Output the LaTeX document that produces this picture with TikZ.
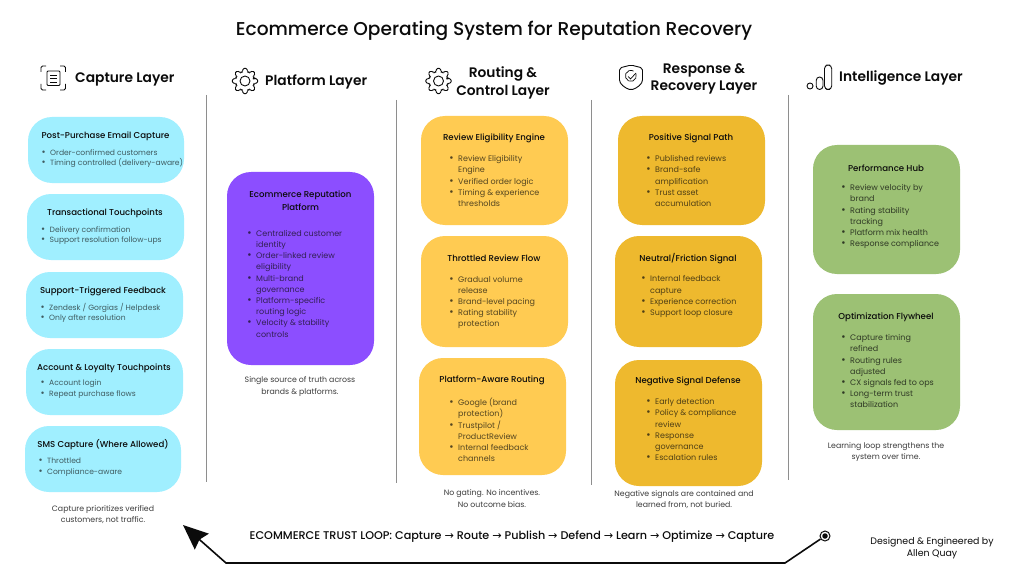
\documentclass[tikz,border=0pt]{standalone}
\usepackage{fontspec}
\setmainfont{Poppins}
\newfontfamily\medfont{Poppins Medium}
\newfontfamily\semifont{Poppins SemiBold}
\newfontfamily\arrowfont{DejaVu Sans}
\usetikzlibrary{arrows.meta,positioning}
\definecolor{ink}{HTML}{0B0B0B}
\definecolor{muted}{HTML}{3C3C3C}
\definecolor{rule}{HTML}{8E8E8E}
\definecolor{capture1}{HTML}{A0EFFF}
\definecolor{platform1}{HTML}{8C4EFF}
\definecolor{routing1}{HTML}{FFCB52}
\definecolor{response1}{HTML}{EEB92E}
\definecolor{intel1}{HTML}{9CC174}
\newcommand{\itm}[1]{\llap{\raisebox{0pt}{\scalebox{1.3}{•}}\hspace{4.5pt}}#1}
\tikzset{
  card/.style={rounded corners=24pt,inner sep=0pt},
  cardtitle/.style={font=\fontsize{8.6}{13}\selectfont\medfont,color=ink,align=center,inner sep=0pt},
  cardlist/.style={font=\fontsize{8}{11.2}\selectfont,align=left,anchor=north west,inner sep=0pt},
  smalllist/.style={cardlist,font=\fontsize{7.6}{10.4}\selectfont,color=capture1!35!ink},
  capnote/.style={font=\fontsize{7.8}{11.4}\selectfont,color=muted,align=center,inner sep=0pt},
  layerhead/.style={font=\fontsize{13.8}{17.5}\selectfont\semifont,color=ink,align=center,inner sep=0pt},
  iconline/.style={draw=ink,line width=0.9pt},
}
\newcommand{\gearicon}[1]{%
  \begin{scope}[shift={#1}]
    \draw[iconline,rounded corners=1.3pt] (-15:9.2)
      \foreach \a in {0,45,...,315}{ -- ({\a-15}:9.4) -- ({\a-9}:12.8) -- ({\a+9}:12.8) -- ({\a+15}:9.4)} -- cycle;
    \draw[iconline] (0,0) circle (5);
  \end{scope}}
\begin{document}
\begin{tikzpicture}[x=1pt,y=-1pt]
  \useasboundingbox (0,0) rectangle (1024,572);
  \fill[white] (0,0) rectangle (1024,572);
  % title
  \node[font=\fontsize{18.6}{22}\selectfont\medfont,color=ink,inner sep=0pt] (title) at (494,30.5)
       {Ecommerce Operating System for Reputation Recovery};
  % column rules
  \foreach \x/\ya/\yb in {206/95/482,396/100/483,591/100/485,788/95/480}{
    \draw[rule,line width=1pt] (\x,\ya) -- (\x,\yb);}
  % layer heads
  \node[layerhead,anchor=west] (capturehead) at (75,79) {Capture Layer};
  \node[layerhead,anchor=west] (platformhead) at (265,82) {Platform Layer};
  \node[layerhead] (routinghead) at (503,83) {Routing \&\\Control Layer};
  \node[layerhead] (responsehead) at (704,79) {Response \&\\Recovery Layer};
  \node[layerhead,anchor=west] (intelhead) at (839,78) {Intelligence Layer};
  % capture icon
  \draw[iconline,rounded corners=1.5pt] (46,66) -- (41,66) -- (41,72);
  \draw[iconline,rounded corners=1.5pt] (60,66) -- (65.5,66) -- (65.5,72);
  \draw[iconline,rounded corners=1.5pt] (41,84) -- (41,90) -- (46,90);
  \draw[iconline,rounded corners=1.5pt] (65.5,84) -- (65.5,90) -- (60,90);
  \draw[iconline,rounded corners=1pt] (47,71) rectangle (60,85.5);
  \foreach \y in {75,78.5,82}{\draw[ink,line width=0.7pt] (50,\y) -- (57,\y);}
  % gears
  \gearicon{(245,81)}
  \gearicon{(438.5,81)}
  % shield icon
  \draw[iconline,rounded corners=2pt] (619.5,68) -- (631,65) -- (642.5,68) -- (642.5,78)
    .. controls (642.5,84) and (637,88) .. (631,90) .. controls (625,88) and (619.5,84) .. (619.5,78) -- cycle;
  \draw[iconline,line width=0.7pt] (636,74) arc (-20:300:5.5);
  \draw[iconline,line width=0.7pt] (628,76.5) -- (630.5,79) -- (636,73);
  % bars icon
  \draw[iconline] (810,86) circle (3);
  \draw[iconline,rounded corners=3.4pt] (816.2,77) rectangle (823,89.5);
  \draw[iconline,rounded corners=3.6pt] (824.5,65) rectangle (831.7,89.5);
  % capture cards
  \node[card,fill=capture1,minimum width=156pt,minimum height=66pt] (emailcard) at (106,150) {};
  \node[cardtitle] (emailtitle) at (105.5,136) {Post-Purchase Email Capture};
  \node[smalllist] (emaillist) at (50,149) {\itm{Order-confirmed customers}\\\itm{Timing controlled (delivery-aware)}};
  \node[card,fill=capture1,minimum width=157pt,minimum height=66pt] (transcard) at (105.5,227) {};
  \node[cardtitle] (transtitle) at (105,213) {Transactional Touchpoints};
  \node[smalllist] (translist) at (49.5,226) {\itm{Delivery confirmation}\\\itm{Support resolution follow-ups}};
  \node[card,fill=capture1,minimum width=157pt,minimum height=66pt] (supportcard) at (104.5,305) {};
  \node[cardtitle] (supporttitle) at (103,291) {Support-Triggered Feedback};
  \node[smalllist] (supportlist) at (49,303) {\itm{Zendesk / Gorgias / Helpdesk}\\\itm{Only after resolution}};
  \node[card,fill=capture1,minimum width=157pt,minimum height=66pt] (accountcard) at (104.5,382) {};
  \node[cardtitle] (accounttitle) at (104,368) {Account \& Loyalty Touchpoints};
  \node[smalllist] (accountlist) at (49,380) {\itm{Account login}\\\itm{Repeat purchase flows}};
  \node[card,fill=capture1,minimum width=156pt,minimum height=66pt] (smscard) at (103,459) {};
  \node[cardtitle] (smstitle) at (103,445) {SMS Capture (Where Allowed)};
  \node[smalllist] (smslist) at (47,458) {\itm{Throttled}\\\itm{Compliance-aware}};
  \node[capnote] (capturenote) at (103,514.5) {Capture prioritizes verified\\customers, not traffic.};
  % platform card
  \node[card,fill=platform1,minimum width=147pt,minimum height=193pt] (platformcard) at (300.5,268.5) {};
  \node[cardtitle] (platformtitle) at (300.5,200.5) {Ecommerce Reputation\\Platform};
  \node[cardlist,color=platform1!30!ink] (platformlist) at (256,230) {\itm{Centralized customer}\\identity\\\itm{Order-linked review}\\eligibility\\\itm{Multi-brand}\\governance\\\itm{Platform-specific}\\routing logic\\\itm{Velocity \& stability}\\controls};
  \node[capnote] (platformnote) at (300,386.5) {Single source of truth across\\brands \& platforms.};
  % routing cards
  \node[card,fill=routing1,minimum width=147pt,minimum height=109pt] (eligcard) at (494.5,170.5) {};
  \node[cardtitle] (eligtitle) at (494,138) {Review Eligibility Engine};
  \node[cardlist,color=routing1!30!ink] (eliglist) at (458,155.5) {\itm{Review Eligibility}\\Engine\\\itm{Verified order logic}\\\itm{Timing \& experience}\\thresholds};
  \node[card,fill=routing1,minimum width=147pt,minimum height=111pt] (flowcard) at (494.5,291.5) {};
  \node[cardtitle] (flowtitle) at (494,258.5) {Throttled Review Flow};
  \node[cardlist,color=routing1!30!ink] (flowlist) at (458,276) {\itm{Gradual volume}\\release\\\itm{Brand-level pacing}\\\itm{Rating stability}\\protection};
  \node[card,fill=routing1,minimum width=147pt,minimum height=117pt] (awarecard) at (492.5,416.5) {};
  \node[cardtitle] (awaretitle) at (492,380.5) {Platform-Aware Routing};
  \node[cardlist,color=routing1!30!ink] (awarelist) at (458,398) {\itm{Google (brand}\\protection)\\\itm{Trustpilot /}\\ProductReview\\\itm{Internal feedback}\\channels};
  \node[capnote] (routingnote) at (492,498.5) {No gating. No incentives.\\No outcome bias.};
  % response cards
  \node[card,fill=response1,minimum width=147pt,minimum height=109pt] (positivecard) at (691.5,170.5) {};
  \node[cardtitle] (positivetitle) at (691,138) {Positive Signal Path};
  \node[cardlist,color=response1!30!ink] (positivelist) at (655,155.5) {\itm{Published reviews}\\\itm{Brand-safe}\\amplification\\\itm{Trust asset}\\accumulation};
  \node[card,fill=response1,minimum width=147pt,minimum height=111pt] (neutralcard) at (688.5,291.5) {};
  \node[cardtitle] (neutraltitle) at (688,258.5) {Neutral/Friction Signal};
  \node[cardlist,color=response1!30!ink] (neutrallist) at (650,275.5) {\itm{Internal feedback}\\capture\\\itm{Experience correction}\\\itm{Support loop closure}};
  \node[card,fill=response1,minimum width=147pt,minimum height=126pt] (negativecard) at (688.5,423) {};
  \node[cardtitle] (negativetitle) at (688,381.5) {Negative Signal Defense};
  \node[cardlist,color=response1!30!ink] (negativelist) at (655,398.5) {\itm{Early detection}\\\itm{Policy \& compliance}\\review\\\itm{Response}\\governance\\\itm{Escalation rules}};
  \node[capnote] (responsenote) at (684,499.5) {Negative signals are contained and\\learned from, not buried.};
  % intelligence cards
  \node[card,fill=intel1,minimum width=147pt,minimum height=129pt] (hubcard) at (886.5,209.5) {};
  \node[cardtitle] (hubtitle) at (886,168) {Performance Hub};
  \node[cardlist,color=intel1!25!ink] (hublist) at (850,184.5) {\itm{Review velocity by}\\brand\\\itm{Rating stability}\\tracking\\\itm{Platform mix health}\\\itm{Response compliance}};
  \node[card,fill=intel1,minimum width=147pt,minimum height=136pt] (flywheelcard) at (886.5,362) {};
  \node[cardtitle] (flywheeltitle) at (886,317) {Optimization Flywheel};
  \node[cardlist,color=intel1!25!ink] (flywheellist) at (850,334.5) {\itm{Capture timing}\\refined\\\itm{Routing rules}\\adjusted\\\itm{CX signals fed to ops}\\\itm{Long-term trust}\\stabilization};
  \node[capnote] (intelnote) at (886,452) {Learning loop strengthens the\\system over time.};
  % trust loop
  \node[font=\fontsize{11.2}{14}\selectfont\medfont,color=ink,inner sep=0pt] (looplabel) at (512,537)
       {ECOMMERCE TRUST LOOP: Capture {\arrowfont→} Route {\arrowfont→} Publish {\arrowfont→} Defend {\arrowfont→} Learn {\arrowfont→} Optimize {\arrowfont→} Capture};
  \node[circle,draw=ink,line width=1pt,fill=white,minimum size=10pt,inner sep=0pt] (loopstart) at (825,536) {};
  \node[circle,fill=ink,minimum size=5.5pt,inner sep=0pt] (loopdot) at (825,536) {};
  \coordinate (loopright) at (785,563);
  \coordinate (loopleft) at (226,563);
  \coordinate (looptip) at (183,525);
  \draw[ink,line width=1.6pt,-{Stealth[length=25pt,width=21pt,inset=3pt]}] (loopstart) -- (loopright) -- (loopleft) -- (looptip);
  \node[font=\fontsize{9.4}{12.4}\selectfont,color=ink,align=center,inner sep=0pt] (credit) at (932,548)
       {Designed \& Engineered by\\Allen Quay};
\end{tikzpicture}
\end{document}
